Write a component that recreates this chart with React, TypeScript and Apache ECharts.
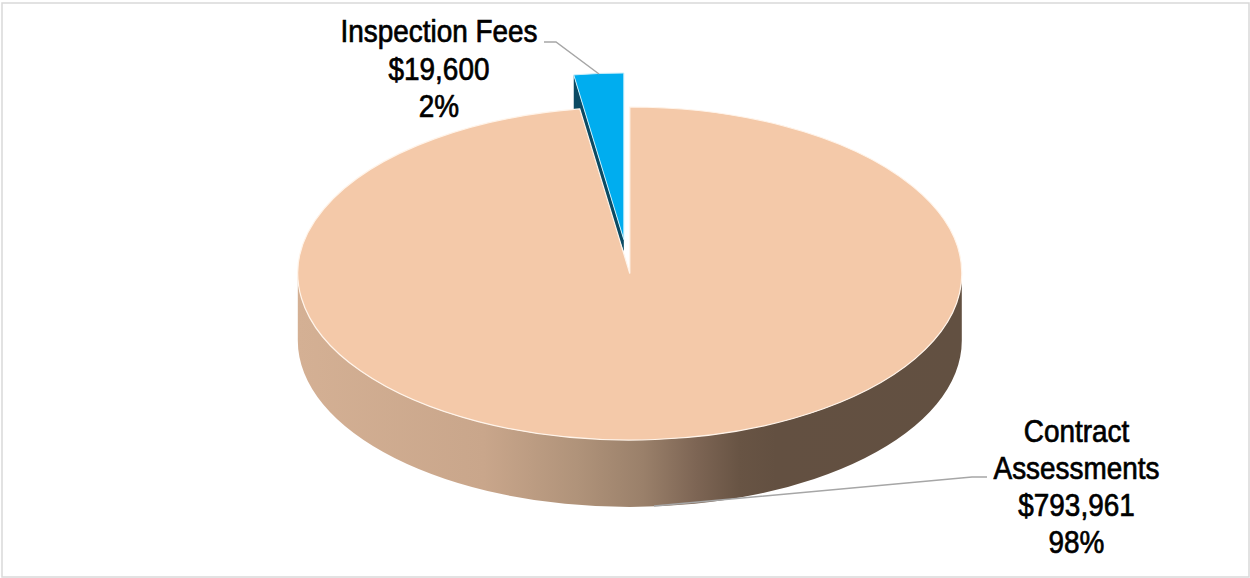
import React, { useEffect, useRef } from "react";
import * as echarts from "echarts";

// Revenue sources
const categories = ["Contract Assessments", "Inspection Fees"];
const amounts = [793961, 19600];
const labelLines = [["Contract", "Assessments"], ["Inspection Fees"]];

const PIE = { cx: 629.8, cy: 273.5, rx: 332, ry: 166.5, depth: 67 };
const EXPLODE = { dx: -6, dy: -34, innerFace: 12, outerFace: 40 };
const FONT = '"Liberation Sans", Arial, sans-serif';
const LABEL = [
  { x: 1076.5, y: 430.5, step: 37 },
  { x: 439, y: 31, step: 37.5 },
];
const LEADERS = [
  [[987, 477], [972, 477], [654, 506]],
  [[544, 42], [556, 42], [599, 74]],
];

const total = amounts.reduce((a, b) => a + b, 0);
const money = (v: number) => "$" + v.toLocaleString("en-US");
const pct = (v: number) => Math.round((v / total) * 100) + "%";

// Clockwise angle from twelve o'clock, projected on to the flattened ellipse.
const rim = (cx: number, cy: number, deg: number) => {
  const a = (deg * Math.PI) / 180;
  return [cx + PIE.rx * Math.sin(a), cy - PIE.ry * Math.cos(a)];
};

const wedgePath = (cx: number, cy: number, from: number, to: number) => {
  const [x0, y0] = rim(cx, cy, from);
  const [x1, y1] = rim(cx, cy, to);
  const large = to - from > 180 ? 1 : 0;
  return `M${cx} ${cy}L${x0} ${y0}A${PIE.rx} ${PIE.ry} 0 ${large} 1 ${x1} ${y1}Z`;
};

const wallPath = () => {
  const { cx, cy, rx, ry, depth } = PIE;
  return (
    `M${cx - rx} ${cy}A${rx} ${ry} 0 0 0 ${cx + rx} ${cy}` +
    `L${cx + rx} ${cy + depth}A${rx} ${ry} 0 0 1 ${cx - rx} ${cy + depth}Z`
  );
};

const wallGradient = () =>
  new echarts.graphic.LinearGradient(0, 0, 1, 0, [
    { offset: 0, color: "#d4b094" },
    { offset: 0.28, color: "#c9a68b" },
    { offset: 0.42, color: "#b0937a" },
    { offset: 0.52, color: "#9a806a" },
    { offset: 0.6, color: "#7d6554" },
    { offset: 0.665, color: "#685444" },
    { offset: 0.72, color: "#635041" },
    { offset: 1, color: "#625041" },
  ]);

// Narrow face: the sans is condensed horizontally about the line's centre.
const textLine = (text: string, x: number, y: number) => ({
  type: "text",
  z2: 20,
  x,
  y,
  scaleX: 0.9,
  style: {
    text,
    x: 0,
    y: 0,
    align: "center",
    verticalAlign: "middle",
    fill: "#000000",
    stroke: "#000000",
    lineWidth: 0.7,
    fontFamily: FONT,
    fontSize: 31,
    fontWeight: "normal",
  },
});

const renderSlice = (params: any, api: any) => {
  const idx = params.dataIndex;
  const value = api.value(0) as number;
  const sweep = (value / total) * 360;
  const lines = [...labelLines[idx], money(value), pct(value)];
  const pos = LABEL[idx];
  const texts = lines.map((t, i) => textLine(t, pos.x, pos.y + i * pos.step));
  const leader = {
    type: "polyline",
    z2: 15,
    shape: { points: LEADERS[idx] },
    style: { stroke: "#a6a6a6", lineWidth: 1.5, fill: "none" },
  };

  if (idx === 0) {
    return {
      type: "group",
      children: [
        { type: "path", z2: 1, shape: { pathData: wallPath() }, style: { fill: wallGradient() } },
        {
          type: "path",
          z2: 5,
          shape: { pathData: wedgePath(PIE.cx, PIE.cy, 0, sweep) },
          style: { fill: "#f4c9a9", stroke: "#fff4ea", lineWidth: 1.2 },
        },
        leader,
        ...texts,
      ],
    };
  }

  const from = 360 - sweep;
  const cx = PIE.cx + EXPLODE.dx;
  const cy = PIE.cy + EXPLODE.dy;
  const [ox, oy] = rim(cx, cy, from);
  return {
    type: "group",
    children: [
      {
        type: "polygon",
        z2: 2,
        shape: {
          points: [
            [ox, oy],
            [cx, cy],
            [cx, cy + EXPLODE.innerFace],
            [ox, oy + EXPLODE.outerFace],
          ],
        },
        style: { fill: "#0b4a63" },
      },
      {
        type: "path",
        z2: 6,
        shape: { pathData: wedgePath(cx, cy, from, 360) },
        style: { fill: "#00adef", stroke: "#c8eefb", lineWidth: 1 },
      },
      leader,
      ...texts,
    ],
  };
};

export default function App() {
  const ref = useRef<HTMLDivElement>(null);

  useEffect(() => {
    const chart = echarts.init(ref.current!, null, { renderer: "svg" });
    chart.setOption({
      animation: false,
      backgroundColor: "#ffffff",
      graphic: [
        {
          type: "rect",
          shape: { x: 2, y: 3, width: 1247, height: 574 },
          style: { fill: "none", stroke: "#d9d9d9", lineWidth: 1.5 },
          silent: true,
        },
      ],
      series: [
        {
          type: "custom",
          coordinateSystem: "none",
          data: categories.map((name, i) => ({ name, value: [amounts[i]] })),
          renderItem: renderSlice,
          silent: true,
        },
      ],
    });
    return () => chart.dispose();
  }, []);

  return <div ref={ref} style={{ position: "fixed", left: 0, top: 0, width: 1250, height: 578 }} />;
}
